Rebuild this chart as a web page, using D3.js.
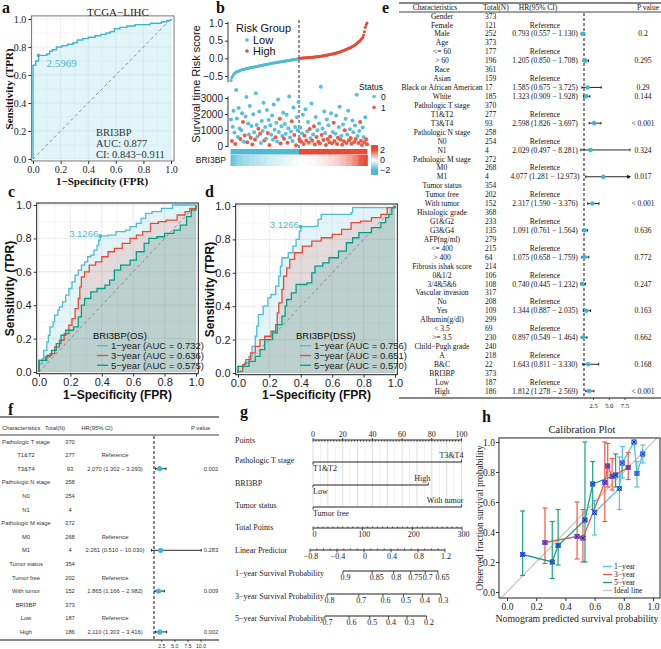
<!DOCTYPE html>
<html>
<head>
<meta charset="utf-8">
<script src="https://cdn.jsdelivr.net/npm/d3@7"></script>
<style>
  body { margin: 0; background: #fff; }
  svg { display: block; }
</style>
</head>
<body>
<svg width="661" height="649"></svg>
<script>
/* --------------- Data --------------- */
// a : ROC TCGA-LIHC, corners (fpr, tpr)
const rocLIHC = [[0,0],[0,0.67],[0.02,0.70],[0.04,0.74],[0.10,0.75],[0.12,0.77],[0.14,0.78],[0.17,0.80],[0.21,0.81],[0.25,0.82],[0.29,0.83],[0.32,0.85],[0.36,0.86],[0.40,0.87],[0.45,0.88],[0.49,0.89],[0.53,0.90],[0.56,0.91],[0.59,0.93],[0.63,0.94],[0.68,0.95],[0.74,0.96],[0.85,0.97],[0.93,0.98],[0.97,0.99],[1,1]];
const cutLIHC = [0.04, 0.74];
const cutLIHCLabel = "2.5969";
const aucLIHC = ["BRI3BP", "AUC: 0.877", "CI: 0.843−0.911"];

// b : risk score (sorted), survival time (days) and status per patient
const riskLow = [-0.63,-0.55,-0.50,-0.46,-0.43,-0.41,-0.39,-0.38,-0.37,-0.36,
  -0.35,-0.34,-0.33,-0.32,-0.315,-0.31,-0.30,-0.295,-0.29,-0.285,
  -0.28,-0.275,-0.27,-0.265,-0.26,-0.255,-0.25,-0.245,-0.24,-0.235,
  -0.23,-0.225,-0.22,-0.215,-0.21,-0.205,-0.20,-0.195,-0.19,-0.185,
  -0.18,-0.175,-0.17,-0.165,-0.16,-0.155,-0.15,-0.145,-0.14,-0.135,
  -0.13,-0.126,-0.122,-0.118,-0.114,-0.11,-0.106,-0.102,-0.098,-0.094,
  -0.09,-0.086,-0.082,-0.078,-0.074,-0.07,-0.066,-0.062,-0.058,-0.054,
  -0.05,-0.046,-0.042,-0.038,-0.034,-0.03,-0.026,-0.022,-0.018,-0.014];
const riskHigh = [0.0,0.002,0.004,0.006,0.008,0.01,0.012,0.014,0.016,0.018,
  0.02,0.022,0.024,0.026,0.028,0.03,0.033,0.036,0.039,0.042,
  0.045,0.048,0.051,0.054,0.057,0.06,0.064,0.068,0.072,0.076,
  0.08,0.085,0.09,0.095,0.10,0.105,0.11,0.115,0.12,0.125,
  0.13,0.136,0.142,0.148,0.155,0.162,0.17,0.178,0.186,0.195,
  0.205,0.215,0.225,0.235,0.245,0.255,0.265,0.275,0.285,0.30,
  0.31,0.32,0.335,0.35,0.365,0.38,0.40,0.42,0.44,0.46,
  0.48,0.50,0.53,0.56,0.60,0.66,0.75,0.88,0.95,1.0];
const timeLow = [1650,310,1200,2200,850,120,3500,1720,560,2380,
  1100,430,980,2050,1500,270,650,1850,3060,240,
  1400,720,2500,510,1250,90,1980,860,400,3300,
  1320,600,1080,2150,770,180,1560,940,2700,350,
  1180,460,2250,820,1620,60,1290,700,1900,390,
  2600,1020,540,1450,280,2900,880,1700,150,1240,
  620,2080,450,1380,760,1960,200,1110,3100,530,
  900,1540,320,2400,680,1180,40,1800,990,2750];
const timeHigh = [420,1150,260,780,1950,130,640,2300,350,900,
  1500,210,1060,480,2650,330,720,1230,90,1820,
  560,980,270,1400,150,3700,690,1100,380,2150,
  820,60,1650,440,1300,230,590,2050,170,880,
  1450,310,760,1900,120,520,1180,2450,410,640,
  80,1350,290,980,1700,190,720,2200,360,1050,
  500,140,1600,860,250,1280,440,3200,620,190,
  930,1500,330,70,1150,560,240,1800,420,110];
const statusLow = [0,1,0,0,0,1,0,0,0,0, 0,1,0,0,1,0,1,0,0,1, 0,0,0,1,0,1,0,0,1,0, 0,0,1,0,1,0,0,0,0,1,
  0,0,0,1,0,1,0,0,0,0, 0,0,1,0,0,0,0,1,1,0, 0,0,1,0,0,0,1,0,0,0, 0,1,0,0,1,0,1,0,0,0];
const statusHigh = [1,0,1,0,0,1,1,0,1,0, 0,1,1,0,0,1,0,1,1,0, 1,0,1,0,1,0,1,0,1,0, 0,1,0,1,0,1,1,0,1,0,
  1,1,0,0,1,1,0,0,1,0, 1,0,1,1,0,1,0,0,1,0, 1,1,0,0,1,0,1,0,0,1, 0,1,1,1,0,0,1,0,1,1];
const riskScore = riskLow.concat(riskHigh);
const survTime = timeLow.concat(timeHigh);
const survStatus = statusLow.concat(statusHigh);

// c / d : time-dependent ROC
const rocYears = ["1−year", "3−year", "5−year"];
const rocOS1 = [[0,0],[0,0.05],[0.02,0.08],[0.03,0.13],[0.05,0.18],[0.06,0.22],[0.07,0.27],[0.09,0.30],[0.10,0.34],[0.12,0.37],[0.13,0.39],[0.15,0.42],[0.17,0.46],[0.19,0.50],[0.21,0.54],[0.23,0.58],[0.25,0.61],[0.27,0.64],[0.29,0.66],[0.31,0.69],[0.33,0.70],[0.35,0.73],[0.37,0.76],[0.38,0.79],[0.39,0.815],[0.44,0.82],[0.49,0.84],[0.55,0.85],[0.58,0.87],[0.62,0.89],[0.65,0.92],[0.68,0.95],[0.72,0.96],[0.78,0.98],[0.85,1.0],[1,1]];
const rocOS3 = [[0,0],[0,0.07],[0.04,0.09],[0.07,0.11],[0.10,0.15],[0.13,0.19],[0.16,0.23],[0.19,0.28],[0.21,0.32],[0.23,0.38],[0.25,0.44],[0.26,0.51],[0.27,0.57],[0.29,0.60],[0.32,0.64],[0.36,0.66],[0.40,0.69],[0.44,0.72],[0.48,0.74],[0.53,0.77],[0.58,0.80],[0.62,0.82],[0.66,0.84],[0.71,0.89],[0.76,0.90],[0.81,0.91],[0.88,0.94],[0.93,0.96],[0.96,0.98],[1,1]];
const rocOS5 = [[0,0],[0,0.07],[0.05,0.10],[0.08,0.13],[0.11,0.17],[0.14,0.22],[0.17,0.25],[0.22,0.27],[0.25,0.33],[0.27,0.40],[0.29,0.44],[0.33,0.48],[0.37,0.50],[0.42,0.52],[0.45,0.55],[0.48,0.61],[0.52,0.64],[0.58,0.67],[0.62,0.72],[0.67,0.77],[0.70,0.80],[0.75,0.81],[0.80,0.83],[0.86,0.85],[0.90,0.88],[0.94,0.93],[0.97,0.97],[1,1]];
const rocDSS1 = [[0,0],[0,0.04],[0.04,0.06],[0.07,0.10],[0.09,0.16],[0.11,0.22],[0.12,0.28],[0.13,0.35],[0.16,0.40],[0.19,0.45],[0.21,0.47],[0.24,0.52],[0.26,0.58],[0.27,0.64],[0.28,0.69],[0.32,0.72],[0.35,0.76],[0.37,0.80],[0.39,0.85],[0.40,0.876],[0.49,0.88],[0.51,0.92],[0.53,0.95],[0.72,0.96],[0.73,0.99],[0.96,0.99],[0.99,1.0],[1,1]];
const rocDSS3 = [[0,0],[0,0.01],[0.03,0.05],[0.05,0.08],[0.08,0.12],[0.11,0.16],[0.14,0.20],[0.17,0.22],[0.21,0.25],[0.24,0.29],[0.25,0.36],[0.26,0.42],[0.28,0.50],[0.29,0.58],[0.31,0.63],[0.33,0.68],[0.36,0.72],[0.41,0.76],[0.47,0.79],[0.53,0.81],[0.60,0.83],[0.66,0.86],[0.72,0.90],[0.78,0.91],[0.85,0.93],[0.91,0.95],[0.95,0.99],[1,1]];
const rocDSS5 = [[0,0],[0,0.04],[0.07,0.07],[0.11,0.10],[0.14,0.14],[0.17,0.20],[0.22,0.24],[0.25,0.29],[0.28,0.34],[0.30,0.40],[0.31,0.44],[0.34,0.48],[0.37,0.53],[0.44,0.54],[0.47,0.60],[0.49,0.64],[0.54,0.66],[0.58,0.69],[0.64,0.73],[0.69,0.78],[0.73,0.81],[0.77,0.84],[0.85,0.87],[0.91,0.90],[0.94,0.93],[0.96,0.95],[0.98,0.99],[1,1]];
const aucOS = [0.732, 0.636, 0.575];
const aucDSS = [0.756, 0.651, 0.570];
const cutOS = [0.39, 0.815], cutDSS = [0.40, 0.876];
const cutLabel = "3.1266";

// e : univariate Cox
const eChar = ["Gender","Female","Male","Age","<= 60","> 60","Race","Asian","Black or African American","White","Pathologic T stage","T1&T2","T3&T4","Pathologic N stage","N0","N1","Pathologic M stage","M0","M1","Tumor status","Tumor free","With tumor","Histologic grade","G1&G2","G3&G4","AFP(ng/ml)","<= 400","> 400","Fibrosis ishak score","0&1/2","3/4&5&6","Vascular invasion","No","Yes","Albumin(g/dl)","< 3.5",">= 3.5","Child−Pugh grade","A","B&C","BRI3BP","Low","High"];
const eTotal = [373,121,252,373,177,196,361,159,17,185,370,277,93,258,254,4,272,268,4,354,202,152,368,233,135,279,215,64,214,106,108,317,208,109,299,69,230,240,218,22,373,187,186];
const eRef = [1,4,7,11,14,17,20,23,26,29,32,35,38,41];
const eHR =   [null,null,0.793,null,null,1.205,null,null,1.585,1.323,null,null,2.598,null,null,2.029,null,null,4.077,null,null,2.317,null,null,1.091,null,null,1.075,null,null,0.740,null,null,1.344,null,null,0.897,null,null,1.643,null,null,1.812];
const eLow =  [null,null,0.557,null,null,0.850,null,null,0.675,0.909,null,null,1.826,null,null,0.497,null,null,1.281,null,null,1.590,null,null,0.761,null,null,0.658,null,null,0.445,null,null,0.887,null,null,0.549,null,null,0.811,null,null,1.278];
const eHigh = [null,null,1.130,null,null,1.708,null,null,3.725,1.928,null,null,3.697,null,null,8.281,null,null,12.973,null,null,3.376,null,null,1.564,null,null,1.759,null,null,1.232,null,null,2.035,null,null,1.464,null,null,3.330,null,null,2.569];
const eP = ["","","0.2","","","0.295","","","0.29","0.144","","","< 0.001","","","0.324","","","0.017","","","< 0.001","","","0.636","","","0.772","","","0.247","","","0.163","","","0.662","","","0.168","","","< 0.001"];
const eTicks = [2.5, 5.0, 7.5];

// f : multivariate Cox
const fChar = ["Pathologic T stage","T1&T2","T3&T4","Pathologic N stage","N0","N1","Pathologic M stage","M0","M1","Tumor status","Tumor free","With tumor","BRI3BP","Low","High"];
const fTotal = [370,277,93,258,254,4,272,268,4,354,202,152,373,187,186];
const fRef = [1,7,10,13];
const fHR =   [null,null,2.070,null,null,null,null,null,2.261,null,null,1.865,null,null,2.110];
const fLow =  [null,null,1.302,null,null,null,null,null,0.510,null,null,1.166,null,null,1.303];
const fHigh = [null,null,3.293,null,null,null,null,null,10.030,null,null,2.982,null,null,3.416];
const fP = ["","","0.002","","","","","","0.283","","","0.009","","","0.002"];
const fTicks = [2.5, 5.0, 7.5, 10.0];

// g : nomogram
const nomoVars = ["Pathologic T stage", "BRI3BP", "Tumor status"];
const nomoLevels = [["T1&T2","T3&T4"], ["Low","High"], ["Tumor free","With tumor"]];
const nomoPoints = [[0,100], [0,77.6], [0,100]];
const totalTicks = [0,100,200,300];
const lpTicks = [-0.8,-0.4,0,0.4,0.8,1.2];
const survYears = ["1−year Survival Probability", "3−year Survival Probability", "5−year Survival Probability"];
const survBase = [0.866, 0.680, 0.529];
const survTicks = [[0.9,0.85,0.8,0.75,0.7,0.65], [0.8,0.7,0.6,0.5,0.4,0.3], [0.7,0.6,0.5,0.4,0.3,0.2]];

// h : calibration
const calNames = ["1−year", "3−year", "5−year"];
const calPred = [[0.60,0.77,0.79,0.87,0.89,0.93], [0.26,0.48,0.52,0.67,0.69,0.72,0.83], [0.107,0.31,0.35,0.534,0.587,0.744]];
const calObs  = [[0.53,0.69,0.86,1.00,0.79,0.92], [0.33,0.37,0.36,0.73,0.84,0.77,0.83], [0.25,0.20,0.31,0.48,0.72,0.78]];
const calLo   = [[0.38,0.55,0.76,0.99,0.70,0.86], [0.19,0.22,0.20,0.47,0.70,0.68,0.75], [0.11,0.09,0.18,0.20,0.55,0.70]];
const calHi   = [[0.61,0.90,0.97,1.00,0.87,0.98], [0.56,0.60,0.55,1.00,0.99,0.89,0.93], [0.54,0.47,0.55,1.00,0.87,0.92]];

/* --------------- Helpers --------------- */
const svg = d3.select("svg");
const SERIF = '"Liberation Serif","Times New Roman",Times,serif';
const SANS = '"Liberation Sans",Arial,Helvetica,sans-serif';
const BLUE = "#4dbbd5", RED = "#e64b35", GREEN = "#00a087";
const fmt1 = d3.format(".1f"), fmt3 = d3.format(".3f");

function txt(g, x, y, s, o = {}) {
  return g.append("text").attr("x", x).attr("y", y).text(s)
    .attr("font-family", o.ff || SERIF).attr("font-size", o.fs || 10)
    .attr("font-weight", o.fw || null).attr("fill", o.fill || "#111")
    .attr("text-anchor", o.anchor || "start");
}
function vtxt(g, x, y, s, o = {}) {
  return txt(g, 0, 0, s, Object.assign({ anchor: "middle" }, o))
    .attr("transform", `translate(${x},${y}) rotate(-90)`);
}
function line(g, x1, y1, x2, y2, col, w) {
  return g.append("line").attr("x1", x1).attr("y1", y1).attr("x2", x2).attr("y2", y2)
    .attr("stroke", col || "#222").attr("stroke-width", w || 1);
}
function styleAxis(a, ff, fs) {
  a.attr("font-family", ff).attr("font-size", fs);
  a.selectAll("text").attr("fill", "#222");
  a.selectAll("line").attr("stroke", "#333");
  a.select(".domain").remove();
}

// panel letters
[["a", 2, 13], ["b", 216, 13], ["c", 8, 197], ["d", 205, 197], ["e", 382, 13], ["f", 8, 415], ["g", 240, 417], ["h", 482, 422]]
  .forEach(d => txt(svg, d[1], d[2], d[0], { fs: 16, fw: "bold" }));

/* --------------- Panel a --------------- */
{
  const g = svg.append("g");
  const x = d3.scaleLinear().domain([0, 1]).range([33, 171]);
  const y = d3.scaleLinear().domain([0, 1]).range([159, 19]);
  const xl = x(-0.012), xr = x(1.022), yb = y(-0.014), yt = y(1.022);
  d3.range(11).map(i => i / 10).forEach((v, i) => {
    const c = i % 2 ? "#f3f3f3" : "#e4e4e4";
    line(g, x(v), yt, x(v), yb, c, 0.6);
    line(g, xl, y(v), xr, y(v), c, 0.6);
  });
  g.append("path").datum(rocLIHC)
    .attr("d", d3.area().x(d => x(d[0])).y0(y(0)).y1(d => y(d[1])).curve(d3.curveStepAfter))
    .attr("fill", BLUE).attr("fill-opacity", 0.17);
  line(g, x(0), y(0), x(1), y(1), "#888", 1).attr("stroke-dasharray", "3,3");
  g.append("path").datum(rocLIHC)
    .attr("d", d3.line().x(d => x(d[0])).y(d => y(d[1])).curve(d3.curveStepAfter))
    .attr("fill", "none").attr("stroke", "#3fb3d6").attr("stroke-width", 1.4);
  g.append("circle").attr("cx", x(cutLIHC[0])).attr("cy", y(cutLIHC[1])).attr("r", 1.8).attr("fill", "#3fb3d6");
  txt(g, x(cutLIHC[0]) + 8, y(cutLIHC[1]) + 12, cutLIHCLabel, { fs: 11, fill: "#3fb3d6" });
  g.append("rect").attr("x", xl).attr("y", yt).attr("width", xr - xl).attr("height", yb - yt)
    .attr("fill", "none").attr("stroke", "#555").attr("stroke-width", 0.8);
  const tk = [0, 0.2, 0.4, 0.6, 0.8, 1];
  g.append("g").attr("transform", `translate(0,${yb})`)
    .call(d3.axisBottom(x).tickValues(tk).tickFormat(fmt1).tickSize(3).tickPadding(2))
    .call(a => styleAxis(a, SERIF, 10));
  g.append("g").attr("transform", `translate(${xl},0)`)
    .call(d3.axisLeft(y).tickValues(tk).tickFormat(fmt1).tickSize(3).tickPadding(2))
    .call(a => styleAxis(a, SERIF, 10));
  aucLIHC.forEach((s, i) => txt(g, 96, 136 + i * 11.2, s, { fs: 10.5, fill: "#333" }));
  txt(g, 118, 16, "TCGA−LIHC", { fs: 11, anchor: "middle", fill: "#222" });
  txt(g, 102, 185, "1−Specificity (FPR)", { fs: 11, fw: "bold", anchor: "middle" });
  vtxt(g, 13, 89, "Sensitivity (TPR)", { fs: 11, fw: "bold" });
}

/* --------------- Panel b --------------- */
{
  const g = svg.append("g");
  const nPat = riskScore.length, nLow = riskLow.length;
  const bx = d3.scaleLinear().domain([0, nPat - 1]).range([231, 367]);
  const yR = d3.scaleLinear().domain([-0.5, 1]).range([76, 23]);
  const yT = d3.scaleLinear().domain([0, 3000]).range([146, 98]);
  const axX = 228;

  g.append("g").attr("transform", `translate(${axX},0)`)
    .call(d3.axisLeft(yR).tickValues([-0.5, 0, 0.5, 1]).tickFormat(fmt1).tickSize(3).tickPadding(2))
    .call(a => styleAxis(a, SANS, 10));
  g.append("g").attr("transform", `translate(${axX},0)`)
    .call(d3.axisLeft(yT).tickValues([0, 1000, 2000, 3000]).tickFormat(d3.format("d")).tickSize(3).tickPadding(2))
    .call(a => styleAxis(a, SANS, 10));
  line(g, axX, yR(-0.68), axX, yR(1.03), "#333", 1);
  line(g, axX, yT(-60), axX, yT(3100), "#333", 1);

  const mid = bx(nLow - 0.5);
  line(g, mid, 20, mid, 148, "#222", 1).attr("stroke-dasharray", "3,2");

  g.append("g").selectAll("circle").data(riskScore).join("circle")
    .attr("cx", (d, i) => bx(i)).attr("cy", d => yR(d)).attr("r", 1.5)
    .attr("fill", (d, i) => i < nLow ? BLUE : RED);
  g.append("g").selectAll("circle").data(survTime).join("circle")
    .attr("cx", (d, i) => bx(i)).attr("cy", d => yT(d)).attr("r", 2)
    .attr("fill", (d, i) => survStatus[i] ? "#ea5a44" : "#55bfdc");

  // group bar + expression heatmap
  const step = bx(1) - bx(0);
  g.append("rect").attr("x", bx(-0.5)).attr("y", 149).attr("width", mid - bx(-0.5)).attr("height", 5.5).attr("fill", BLUE);
  g.append("rect").attr("x", mid).attr("y", 149).attr("width", bx(nPat - 0.5) - mid).attr("height", 5.5).attr("fill", RED);
  const mean = d3.mean(riskScore), sd = d3.deviation(riskScore);
  const heat = d3.scaleLinear().domain([-2, 0, 2]).range([BLUE, "#ffffff", RED]).clamp(true);
  g.append("g").selectAll("rect").data(riskScore).join("rect")
    .attr("x", (d, i) => bx(i - 0.5)).attr("y", 155).attr("width", step + 0.4).attr("height", 11)
    .attr("fill", d => heat((d - mean) / sd));
  txt(g, 226, 163, "BRI3BP", { ff: SANS, fs: 8.5, anchor: "end" });

  // colour bar
  const cb = d3.scaleLinear().domain([-3, 3]).range([175, 145]);
  const grad = svg.append("defs").append("linearGradient").attr("id", "cbGrad")
    .attr("x1", 0).attr("y1", 1).attr("x2", 0).attr("y2", 0);
  d3.range(-3, 3.01, 0.5).forEach(v => grad.append("stop").attr("offset", (v + 3) / 6).attr("stop-color", heat(v)));
  g.append("rect").attr("x", 371).attr("y", cb(3)).attr("width", 7).attr("height", cb(-3) - cb(3)).attr("fill", "url(#cbGrad)");
  [2, 0, -2].forEach(v => txt(g, 380, cb(v) + 3, v < 0 ? "−" + (-v) : String(v), { ff: SANS, fs: 9, fill: "#222" }));

  // legends
  txt(g, 236, 32, "Risk Group", { ff: SANS, fs: 11 });
  [["Low", BLUE], ["High", RED]].forEach((d, i) => {
    g.append("circle").attr("cx", 247).attr("cy", 40 + i * 11).attr("r", 1.8).attr("fill", d[1]);
    txt(g, 253, 44 + i * 11, d[0], { ff: SANS, fs: 11 });
  });
  txt(g, 359, 90, "Status", { ff: SANS, fs: 8.5 });
  [["0", "#55bfdc"], ["1", "#ea5a44"]].forEach((d, i) => {
    g.append("circle").attr("cx", 374).attr("cy", 96.5 + i * 11).attr("r", 1.8).attr("fill", d[1]);
    txt(g, 381, 100 + i * 11, d[0], { ff: SANS, fs: 8.5 });
  });
  vtxt(g, 200, 84, "Survival time Risk score", { ff: SANS, fs: 11 });
}

/* --------------- Panels c, d --------------- */
function rocPanel(o) {
  const g = svg.append("g");
  const x = d3.scaleLinear().domain([0, 1]).range([o.x0, o.x1]);
  const y = d3.scaleLinear().domain([0, 1]).range([o.y0, o.y1]);
  const xl = x(-0.015), xr = x(1.015), yb = y(-0.01), yt = y(1.012);
  d3.range(11).map(i => i / 10).forEach((v, i) => {
    const c = i % 2 ? "#efefef" : "#dedede";
    line(g, x(v), yt, x(v), yb, c, 0.6);
    line(g, xl, y(v), xr, y(v), c, 0.6);
  });
  const cols = [BLUE, RED, GREEN], ops = [0.16, 0.15, 0.17];
  o.curves.forEach((c, i) => g.append("path").datum(c)
    .attr("d", d3.area().x(d => x(d[0])).y0(y(0)).y1(d => y(d[1])).curve(d3.curveStepAfter))
    .attr("fill", cols[i]).attr("fill-opacity", ops[i]));
  line(g, x(0), y(0), x(1), y(1), "#8a8a8a", 1).attr("stroke-dasharray", "3,3");
  o.curves.forEach((c, i) => g.append("path").datum(c)
    .attr("d", d3.line().x(d => x(d[0])).y(d => y(d[1])).curve(d3.curveStepAfter))
    .attr("fill", "none").attr("stroke", cols[i]).attr("stroke-width", 1.3));
  g.append("circle").attr("cx", x(o.cut[0])).attr("cy", y(o.cut[1])).attr("r", 2).attr("fill", BLUE);
  txt(g, x(o.cut[0]) - 2, y(o.cut[1]) + 1.5, cutLabel, { ff: SANS, fs: 9.5, fill: BLUE, anchor: "end" });
  g.append("rect").attr("x", xl).attr("y", yt).attr("width", xr - xl).attr("height", yb - yt)
    .attr("fill", "none").attr("stroke", "#333").attr("stroke-width", 1.1);
  const tk = [0, 0.2, 0.4, 0.6, 0.8, 1];
  g.append("g").attr("transform", `translate(0,${yb})`)
    .call(d3.axisBottom(x).tickValues(tk).tickFormat(fmt1).tickSize(3).tickPadding(2))
    .call(a => styleAxis(a, SANS, 11));
  g.append("g").attr("transform", `translate(${xl},0)`)
    .call(d3.axisLeft(y).tickValues(tk).tickFormat(fmt1).tickSize(3).tickPadding(2))
    .call(a => styleAxis(a, SANS, 11));
  txt(g, (o.x0 + o.x1) / 2, 399, "1−Specificity (FPR)", { ff: SANS, fs: 12, fw: "bold", anchor: "middle" });
  vtxt(g, o.yLabX, (o.y0 + o.y1) / 2, "Sensitivity (TPR)", { ff: SANS, fs: 12, fw: "bold" });
  txt(g, o.legX - 4, 338.5, o.title, { ff: SANS, fs: 9.5 });
  rocYears.forEach((s, i) => {
    const ly = 345.7 + i * 9.8;
    line(g, o.legX, ly, o.legX + 11, ly, cols[i], 1.3);
    txt(g, o.legX + 14, ly + 3.3, `${s} (AUC = ${fmt3(o.auc[i])})`, { ff: SANS, fs: 9.5, fill: "#222" });
  });
}
rocPanel({ x0: 39, x1: 196, y0: 372, y1: 205, curves: [rocOS1, rocOS3, rocOS5], auc: aucOS, cut: cutOS, title: "BRI3BP(OS)", legX: 97, yLabX: 14 });
rocPanel({ x0: 238, x1: 395, y0: 373, y1: 206, curves: [rocDSS1, rocDSS3, rocDSS5], auc: aucDSS, cut: cutDSS, title: "BRI3BP(DSS)", legX: 300, yLabX: 214 });

/* --------------- Panels e, f (forest tables) --------------- */
function forest(o) {
  const g = svg.append("g");
  const rowY = i => o.row0 + i * o.rowH;
  const x = d3.scaleLinear().domain([1, o.tMax]).range([o.xRef, o.xMax]);
  const F = { ff: o.ff, fs: o.fs, fill: o.col };
  line(g, o.left, o.top, o.right, o.top, "#111", 1.2);
  line(g, o.left, o.head, o.right, o.head, "#111", 0.8);
  line(g, o.left, o.bottom, o.right, o.bottom, "#111", 1.2);
  o.header.forEach(h => txt(g, h[1], h[2], h[0], Object.assign({ anchor: h[3] }, F)));
  line(g, x(1), o.head + 1, x(1), o.bottom, "#111", 1).attr("stroke-dasharray", "3,2");
  o.chars.forEach((c, i) => {
    const yy = rowY(i), by = yy + o.fs * 0.35;
    txt(g, o.cChar, by, c, Object.assign({ anchor: "middle" }, F));
    txt(g, o.cTot, by, o.total[i], Object.assign({ anchor: o.totAnchor }, F));
    if (o.ref.includes(i)) txt(g, o.cHR, by, "Reference", Object.assign({ anchor: "middle" }, F));
    if (o.hr[i] != null) {
      txt(g, o.cHR, by, `${fmt3(o.hr[i])} (${fmt3(o.lo[i])} − ${fmt3(o.hi[i])})`, Object.assign({ anchor: "middle" }, F));
      txt(g, o.cP, by, o.p[i], Object.assign({ anchor: "middle" }, F));
      const xa = x(o.lo[i]), clipped = o.hi[i] > o.clip, xb = x(Math.min(o.hi[i], o.clip));
      line(g, xa, yy, xb, yy, "#111", 0.9);
      line(g, xa, yy - 1.3, xa, yy + 1.3, "#111", 0.9);
      if (clipped) g.append("path").attr("d", `M${xb - 3},${yy - 2}L${xb + 1},${yy}L${xb - 3},${yy + 2}Z`).attr("fill", "#111");
      else line(g, xb, yy - 1.3, xb, yy + 1.3, "#111", 0.9);
      g.append("circle").attr("cx", x(o.hr[i])).attr("cy", yy).attr("r", o.r).attr("fill", "#3db6dc");
    }
  });
  o.ticks.forEach(t => {
    line(g, x(t), o.bottom, x(t), o.bottom + 2, "#111", 0.7);
    txt(g, x(t), o.bottom + o.tickDy, fmt1(t), { ff: o.ff, fs: o.fs - 0.6, fill: o.col, anchor: "middle" });
  });
}
forest({
  ff: SERIF, fs: 7.5, col: "#111", left: 399, right: 661, top: 3, head: 12, bottom: 398,
  row0: 16, rowH: 8.93, xRef: 584, tMax: 7.5, xMax: 625, clip: 8.3, r: 2.3, tickDy: 9.5,
  cChar: 442, cTot: 485, totAnchor: "start", cHR: 545, cP: 643,
  header: [["Characteristics", 435, 9.8, "middle"], ["Total(N)", 483, 9.8, "start"], ["HR(95% CI)", 538, 9.8, "middle"], ["P value", 637, 9.8, "start"]],
  chars: eChar, total: eTotal, ref: eRef, hr: eHR, lo: eLow, hi: eHigh, p: eP, ticks: eTicks
});
forest({
  ff: SANS, fs: 5.8, col: "#333", left: 0, right: 219, top: 417, head: 435, bottom: 640,
  row0: 441.5, rowH: 13.6, xRef: 154, tMax: 10, xMax: 201, clip: 11, r: 2.6, tickDy: 7.5,
  cChar: 26, cTot: 70, totAnchor: "middle", cHR: 115, cP: 211,
  header: [["Characteristics", 2, 430, "start"], ["Total(N)", 45, 430, "start"], ["HR(95% CI)", 97, 430, "middle"], ["P value", 191, 430, "start"]],
  chars: fChar, total: fTotal, ref: fRef, hr: fHR, lo: fLow, hi: fHigh, p: fP, ticks: fTicks
});

/* --------------- Panel g (nomogram) --------------- */
{
  const g = svg.append("g");
  const ptsX = d3.scaleLinear().domain([0, 100]).range([313, 461.5]);
  const totX = d3.scaleLinear().domain([0, 300]).range([313, 462]);
  const lpX = d3.scaleLinear().domain([-0.8, 1.2]).range([310, 445]);
  const F = { ff: SERIF, fs: 8, fill: "#222" };
  const rowC = [440, 460, 483, 505, 527, 550, 573, 596, 618];
  const labels = ["Points"].concat(nomoVars, ["Total Points", "Linear Predictor"], survYears);
  labels.forEach((s, i) => txt(g, 235, rowC[i] + 3, s, F));

  // vertical guides
  d3.range(0, 101, 5).forEach(v => line(g, ptsX(v), rowC[0], ptsX(v), rowC[3] + 1, v % 10 ? "#e8e8e8" : "#cfcfcf", 0.7));

  // points axis
  line(g, ptsX(0), rowC[0], ptsX(100), rowC[0], "#222", 1.1);
  d3.range(0, 101, 2).forEach(v => line(g, ptsX(v), rowC[0], ptsX(v), rowC[0] + 1.8, "#222", 0.7));
  d3.range(0, 101, 20).forEach(v => {
    line(g, ptsX(v), rowC[0], ptsX(v), rowC[0] - 2, "#222", 0.8);
    txt(g, ptsX(v), rowC[0] - 3.5, v, Object.assign({ anchor: "middle" }, F));
  });

  // variables
  nomoVars.forEach((v, k) => {
    const ly = rowC[k + 1] + 2, xa = ptsX(nomoPoints[k][0]), xb = ptsX(nomoPoints[k][1]);
    line(g, xa, ly, xb, ly, "#222", 1.2);
    line(g, xa, ly, xa, ly + 2.5, "#222", 0.8);
    line(g, xb, ly, xb, ly - 2.5, "#222", 0.8);
    txt(g, xa, ly + 9, nomoLevels[k][0], F);
    txt(g, xb + 2, ly - 4, nomoLevels[k][1], Object.assign({ anchor: "end" }, F));
  });

  // total points
  const ty = rowC[4] + 1;
  line(g, totX(0), ty, totX(300), ty, "#222", 1.1);
  d3.range(0, 301, 10).forEach(v => line(g, totX(v), ty, totX(v), ty - 1.6, "#222", 0.7));
  totalTicks.forEach(v => {
    line(g, totX(v), ty, totX(v), ty + 2.5, "#222", 0.8);
    txt(g, totX(v) + 1.5, ty + 8.5, v, Object.assign({ anchor: "middle" }, F));
  });

  // linear predictor
  const ly = rowC[5];
  line(g, lpX(-0.8), ly, lpX(1.2), ly, "#222", 1.1);
  d3.range(-8, 13, 1).forEach(v => line(g, lpX(v / 10), ly, lpX(v / 10), ly - 1.6, "#222", 0.7));
  lpTicks.forEach(v => {
    line(g, lpX(v), ly, lpX(v), ly + 2.5, "#222", 0.8);
    txt(g, lpX(v) + 1, ly + 8.5, v < 0 ? "−" + (-v) : String(v), Object.assign({ anchor: "middle" }, F));
  });

  // survival probabilities: lp = ln(ln p / ln S0)
  survTicks.forEach((tks, k) => {
    const sy = rowC[6 + k] - 2;
    const px = p => lpX(Math.log(Math.log(p) / Math.log(survBase[k])));
    line(g, px(tks[0]), sy, px(tks[tks.length - 1]), sy, "#222", 1.1);
    tks.forEach(p => {
      line(g, px(p), sy, px(p), sy + 3, "#222", 0.8);
      txt(g, px(p) - 2.5, sy + 8.5, String(p), F);
    });
  });
}

/* --------------- Panel h (calibration) --------------- */
{
  const g = svg.append("g");
  const x = d3.scaleLinear().domain([0, 1]).range([507, 653]);
  const y = d3.scaleLinear().domain([0, 1]).range([592, 442]);
  const xl = x(-0.055), xr = x(1.048), yt = y(1.027), yb = y(-0.04);
  svg.select("defs").append("clipPath").attr("id", "hclip").append("rect")
    .attr("x", xl).attr("y", yt).attr("width", xr - xl).attr("height", yb - yt);
  const cols = ["#56c1dd", "#ee5a45", "#17a384"];
  const inner = g.append("g").attr("clip-path", "url(#hclip)");
  line(inner, x(-0.1), y(-0.1), x(1.1), y(1.1), "#c4c4c4", 1.2);
  calPred.forEach((pr, k) => {
    pr.forEach((p, i) => {
      line(inner, x(p), y(calLo[k][i]), x(p), y(calHi[k][i]), cols[k], 1.2);
      line(inner, x(p) - 2.5, y(calLo[k][i]), x(p) + 2.5, y(calLo[k][i]), cols[k], 1.2);
      line(inner, x(p) - 2.5, y(calHi[k][i]), x(p) + 2.5, y(calHi[k][i]), cols[k], 1.2);
    });
    inner.append("path").datum(pr.map((p, i) => [p, calObs[k][i]]))
      .attr("d", d3.line().x(d => x(d[0])).y(d => y(d[1])))
      .attr("fill", "none").attr("stroke", cols[k]).attr("stroke-width", 1.3);
  });
  calPred.forEach((pr, k) => pr.forEach((p, i) => {
    const cx = x(p), cy = y(calObs[k][i]);
    inner.append("rect").attr("x", cx - 2.2).attr("y", cy - 2.2).attr("width", 4.4).attr("height", 4.4)
      .attr("fill", cols[k]).attr("stroke", "#2233ee").attr("stroke-width", 0.6);
    inner.append("path").attr("d", `M${cx - 1.8},${cy - 1.8}L${cx + 1.8},${cy + 1.8}M${cx - 1.8},${cy + 1.8}L${cx + 1.8},${cy - 1.8}`)
      .attr("stroke", "#1a1aff").attr("stroke-width", 1);
  }));
  g.append("rect").attr("x", xl).attr("y", yt).attr("width", xr - xl).attr("height", yb - yt)
    .attr("fill", "none").attr("stroke", "#222").attr("stroke-width", 1);
  const tk = [0, 0.2, 0.4, 0.6, 0.8, 1];
  g.append("g").attr("transform", `translate(0,${yb})`)
    .call(d3.axisBottom(x).tickValues(tk).tickFormat(fmt1).tickSize(3).tickPadding(2))
    .call(a => styleAxis(a, SERIF, 9.5));
  g.append("g").attr("transform", `translate(${xl},0)`)
    .call(d3.axisLeft(y).tickValues(tk).tickFormat(fmt1).tickSize(3).tickPadding(1))
    .call(a => styleAxis(a, SERIF, 9.5));
  txt(g, 582, 433, "Calibration Plot", { fs: 10.5, anchor: "middle", fill: "#222" });
  txt(g, 577, 622, "Nomogram predicted survival probability", { fs: 9.8, anchor: "middle", fill: "#222" });
  vtxt(g, 483, 518, "Observed fraction survival probability", { fs: 9.5, fill: "#222" });
  calNames.concat(["Ideal line"]).forEach((s, i) => {
    const ly = 566.5 + i * 8;
    line(g, 603, ly, 612, ly, i < 3 ? cols[i] : "#c4c4c4", 1.4);
    txt(g, 614, ly + 2.6, s, { fs: 7.6, fill: "#222" });
  });
}
</script>
</body>
</html>
